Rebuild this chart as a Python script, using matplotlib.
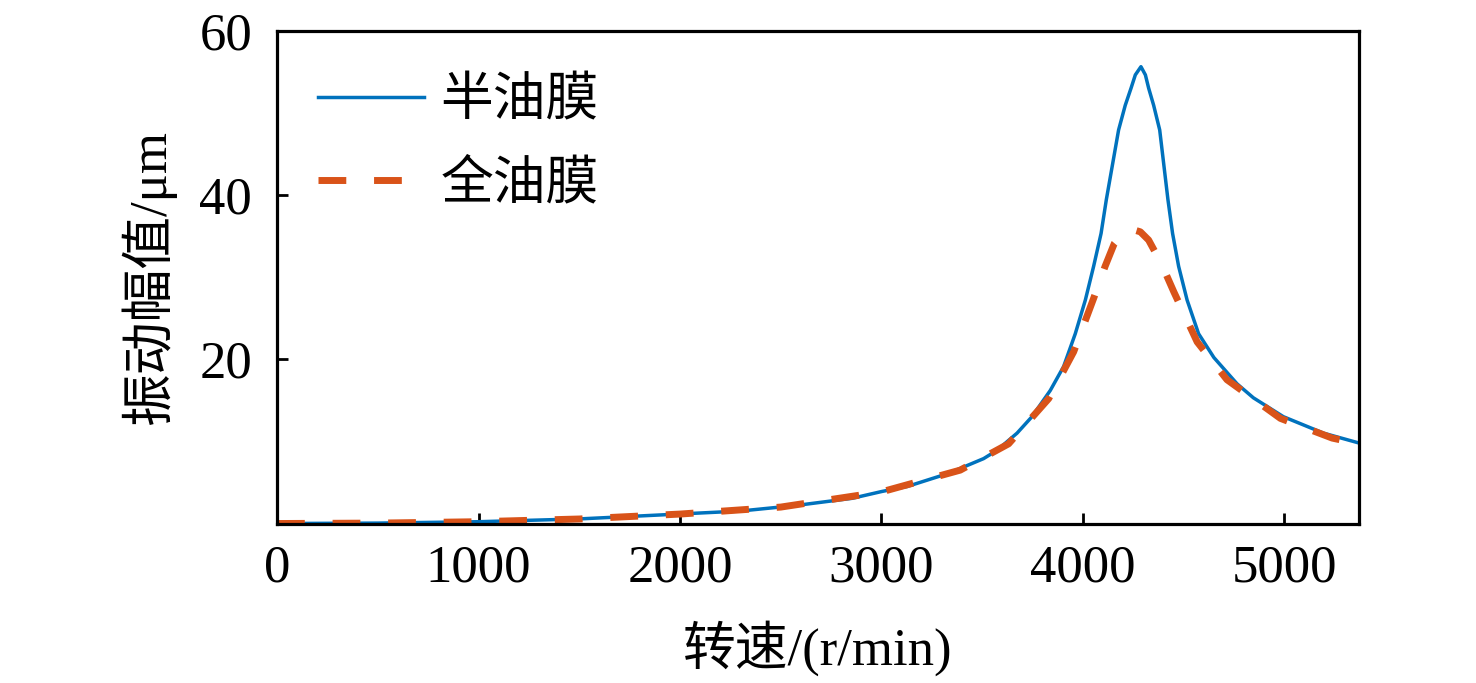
import matplotlib
matplotlib.use("Agg")
import matplotlib.pyplot as plt

plt.rcParams['font.family'] = ['Liberation Serif', 'Noto Sans CJK SC', 'DejaVu Sans']
plt.rcParams['axes.unicode_minus'] = False

# Data
half_speed = [0, 500, 1000, 1500, 2000, 2300, 2577, 2855, 3002, 3127, 3332, 3507,
              3573, 3673, 3747, 3838, 3904, 3962, 4012, 4053, 4090, 4116, 4177,
              4210, 4239, 4260, 4288, 4310, 4326, 4351, 4381, 4422, 4445, 4475,
              4517, 4574, 4650, 4765, 4846, 4995, 5194, 5370]
half_amp = [0.0, 0.05, 0.22, 0.56, 1.16, 1.52, 2.2, 3.07, 3.9, 4.5, 6.1, 7.9,
            8.9, 11.0, 13.0, 16.2, 19.1, 23.1, 27.2, 31.3, 35.3, 39.4, 47.9,
            50.9, 53.0, 54.6, 55.6, 54.6, 53.0, 50.9, 47.9, 39.4, 35.3, 31.3,
            27.2, 23.1, 20.2, 17.0, 15.3, 13.0, 11.0, 9.8]

full_speed = [0, 500, 1000, 1500, 2000, 2500, 3000, 3391, 3631, 3830, 3954, 4053,
              4110, 4156, 4200, 4244, 4285, 4326, 4390, 4451, 4567, 4715, 4980,
              5237, 5370]
full_amp = [0.0, 0.05, 0.22, 0.55, 1.15, 2.0, 3.85, 6.5, 9.7, 15.2, 20.9, 27.4,
            31.3, 34.1, 35.4, 35.8, 35.5, 34.5, 31.6, 28.2, 22.1, 17.5, 12.8,
            10.4, 9.7]

labels = ['半油膜', '全油膜']
x_ticks = [0, 1000, 2000, 3000, 4000, 5000]
y_ticks = [20, 40, 60]

fig = plt.figure(figsize=(14.76, 6.83), dpi=100)
ax = fig.add_axes([0.1877, 0.2335, 0.9207 - 0.1877, 0.9553 - 0.2335])

ax.plot(half_speed, half_amp, color='#0072BD', lw=2.5, label=labels[0])
ax.plot(full_speed, full_amp, color='#D95319', lw=5, dashes=(4, 4),
        dash_capstyle='butt', label=labels[1])

ax.set_xlim(0, 5370)
ax.set_ylim(0, 60)
ax.set_xticks(x_ticks)
ax.set_yticks(y_ticks)
ax.tick_params(direction='in', length=8, width=2, labelsize=38)
ax.tick_params(axis='y', pad=18)
ax.tick_params(axis='x', pad=15)
for s in ax.spines.values():
    s.set_linewidth(2.3)

ax.set_xlabel('转速/(r/min)', fontsize=38, labelpad=20)
ax.set_ylabel('振动幅值/μm', fontsize=38, labelpad=17)

leg = ax.legend(loc='upper left', bbox_to_anchor=(0.004, 0.98), frameon=False,
                fontsize=38, handlelength=2.0, handletextpad=0.31,
                labelspacing=0.63, borderaxespad=0.3, borderpad=0.4)

fig.savefig('out.png', dpi=100)
